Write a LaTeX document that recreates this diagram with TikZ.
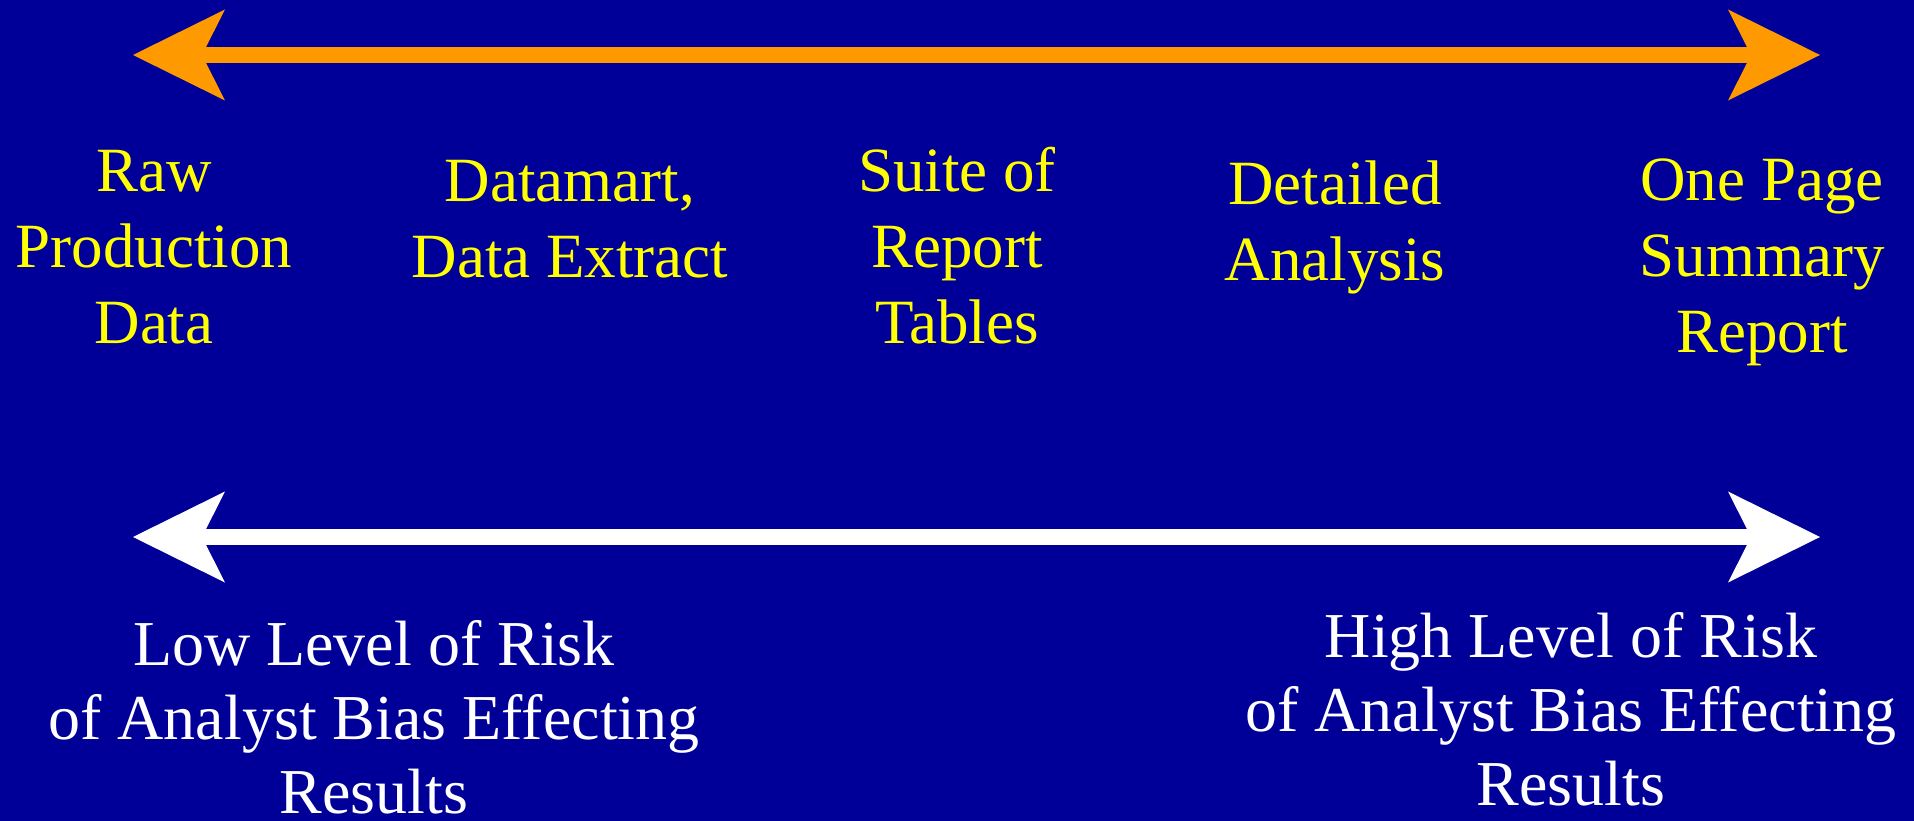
\documentclass[tikz,border=0pt]{standalone}
\usepackage{fontspec}
\setmainfont{Liberation Serif}
\usetikzlibrary{arrows.meta}
\definecolor{slidebg}{HTML}{000099}
\definecolor{flowarrow}{HTML}{FF9900}
\definecolor{flowtext}{HTML}{FFFF00}

\begin{document}
\begin{tikzpicture}[x=1pt,y=-1pt,
  % labels are placed by the baseline of their last line
  stage/.style={text=flowtext, font=\fontsize{63}{76}\selectfont, align=center, anchor=base, inner sep=0pt},
  risk/.style={text=white, font=\fontsize{64}{74}\selectfont, align=center, anchor=base, inner sep=0pt},
  bigtip/.tip={Stealth[length=92pt, width=91pt, inset=23pt, line width=0pt]},
  span/.style={line width=16pt, bigtip-bigtip},
]
% slide background
\fill[slidebg] (0,0) rectangle (1914,821);
\useasboundingbox (0,0) rectangle (1914,821);

% end points of the two scales
\coordinate (topL) at (133,55);
\coordinate (topR) at (1820,55);
\coordinate (botL) at (133,537);
\coordinate (botR) at (1820,537);

\draw[span, flowarrow] (topL) -- (topR);
\draw[span, white] (botL) -- (botR);

% stages along the upper scale
\node[stage] (raw)     at (154,343)  {Raw\\Production\\Data};
\node[stage] (mart)    at (570,277)  {Datamart,\\Data Extract};
\node[stage] (suite)   at (957,343)  {Suite of\\Report\\Tables};
\node[stage] (detail)  at (1335,280) {Detailed\\Analysis};
\node[stage] (summary) at (1762,352) {One Page\\Summary\\Report};

% risk levels at both ends of the lower scale
\node[risk] (low)  at (374,813)  {Low Level of Risk\\of Analyst Bias Effecting\\Results};
\node[risk] (high) at (1571,805) {High Level of Risk\\of Analyst Bias Effecting\\Results};
\end{tikzpicture}
\end{document}
